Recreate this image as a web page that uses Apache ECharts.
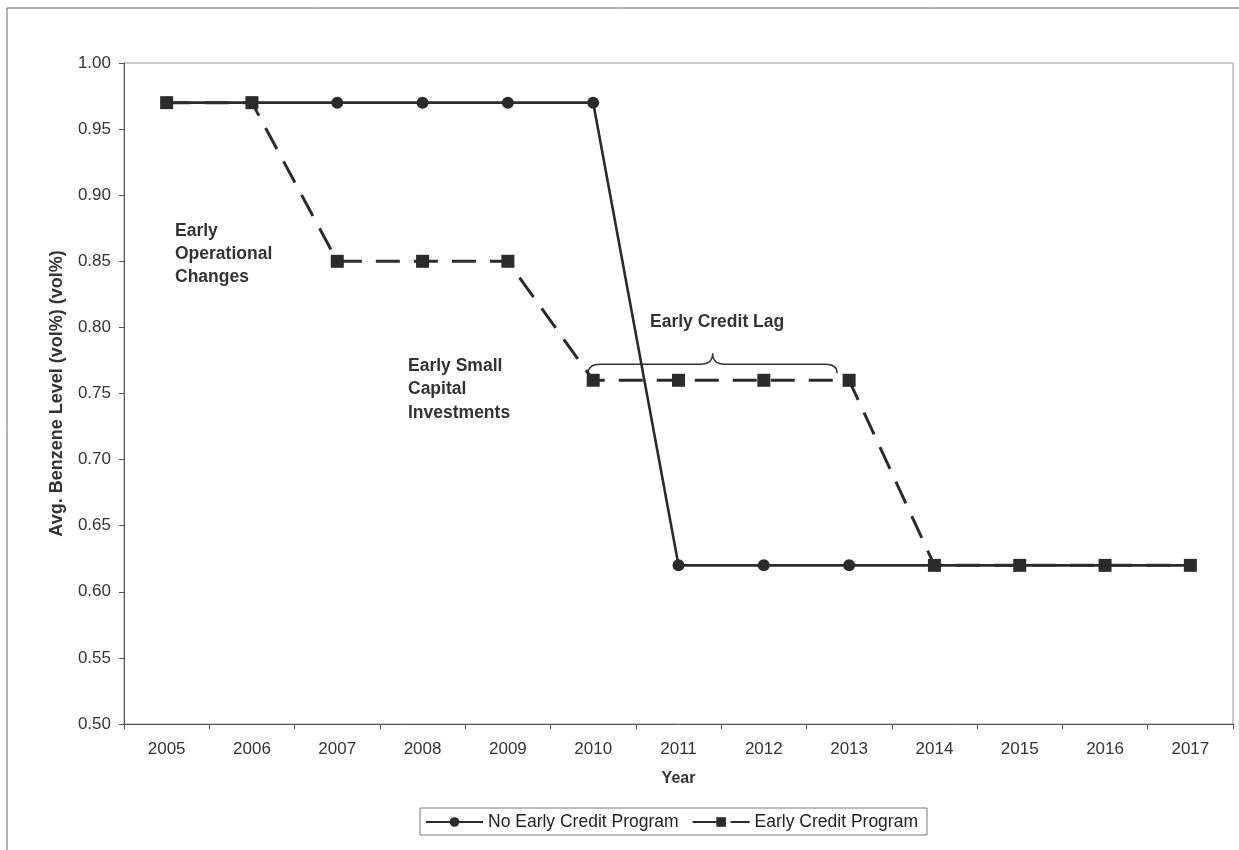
<!DOCTYPE html>
<html><head><meta charset="utf-8">
<script src="https://cdn.jsdelivr.net/npm/echarts@6/dist/echarts.min.js"></script>
<style>html,body{margin:0;padding:0;background:#fff}#c{width:1239px;height:850px}</style>
</head><body><div id="c"></div>
<script>
const years = ['2005','2006','2007','2008','2009','2010','2011','2012','2013','2014','2015','2016','2017'];
const noEarly = [0.97,0.97,0.97,0.97,0.97,0.97,0.62,0.62,0.62,0.62,0.62,0.62,0.62];
const early = [0.97,0.97,0.85,0.85,0.85,0.76,0.76,0.76,0.76,0.62,0.62,0.62,0.62];
const braceSpan = [[5, 8, 0.76]];
const yTicks = {min: 0.5, max: 1.0, interval: 0.05};

const F = 'Liberation Sans, Arial, sans-serif';
const chart = echarts.init(document.getElementById('c'));
chart.setOption({
  animation: false,
  backgroundColor: '#fff',
  grid: {left: 124, right: 6, top: 63, bottom: 126, show: true, borderColor: '#999', borderWidth: 1},
  legend: {
    top: 808, left: 420, itemWidth: 57, itemHeight: 12, itemGap: 13,
    borderColor: '#777', borderWidth: 1, padding: [5, 9, 4, 5],
    textStyle: {fontFamily: F, fontSize: 17.5, color: '#222', padding: [0, 0, 0, 0]},
    data: ['No Early Credit Program', 'Early Credit Program']
  },
  xAxis: {
    type: 'category', data: years, boundaryGap: true,
    name: 'Year', nameLocation: 'middle', nameGap: 47,
    nameTextStyle: {fontFamily: F, fontSize: 16, fontWeight: 'bold', color: '#333'},
    axisLine: {lineStyle: {color: '#555', width: 1}},
    axisTick: {show: true, length: 5, lineStyle: {color: '#555'}},
    axisLabel: {fontFamily: F, fontSize: 17, color: '#333', margin: 17}
  },
  yAxis: {
    type: 'value', min: yTicks.min, max: yTicks.max, interval: yTicks.interval,
    name: 'Avg. Benzene Level (vol%) (vol%)', nameLocation: 'middle', nameGap: 58,
    nameTextStyle: {fontFamily: F, fontSize: 18, fontWeight: 'bold', color: '#333'},
    axisLine: {show: true, lineStyle: {color: '#555', width: 1}},
    axisTick: {show: true, length: 5, lineStyle: {color: '#555'}},
    splitLine: {show: false},
    axisLabel: {fontFamily: F, fontSize: 17, color: '#333', margin: 13, formatter: v => v.toFixed(2)}
  },
  series: [
    {
      name: 'No Early Credit Program', type: 'line', data: noEarly,
      symbol: 'circle', symbolSize: 12,
      lineStyle: {color: '#2b2b2b', width: 2.6},
      itemStyle: {color: '#2b2b2b'}
    },
    {
      name: 'Early Credit Program', type: 'line', data: early,
      symbol: 'rect', symbolSize: 13,
      lineStyle: {color: '#2b2b2b', width: 3, type: [24, 14]},
      itemStyle: {color: '#2b2b2b'}
    },
    {
      type: 'custom', data: braceSpan, silent: true, z: 1,
      renderItem: function (params, api) {
        const p0 = api.coord([api.value(0), api.value(2)]);
        const p1 = api.coord([api.value(1), api.value(2)]);
        const x0 = p0[0] - 5, x1 = p1[0] - 12;
        const yE = p0[1] - 7, yM = p0[1] - 16, yP = p0[1] - 27;
        const xm = (x0 + x1) / 2;
        const d = `M${x0} ${yE} Q${x0} ${yM} ${x0+12} ${yM} L${xm-12} ${yM} Q${xm} ${yM} ${xm} ${yP} Q${xm} ${yM} ${xm+12} ${yM} L${x1-12} ${yM} Q${x1} ${yM} ${x1} ${yE}`;
        return {type: 'path', shape: {pathData: d}, style: {fill: null, stroke: '#333', lineWidth: 1.5}};
      }
    }
  ],
  graphic: [
    {type: 'rect', shape: {x: 7, y: 8, width: 1300, height: 900}, style: {fill: null, stroke: '#666', lineWidth: 1}, silent: true, z: -10},
    {type: 'text', left: 175, top: 220, style: {text: 'Early\nOperational\nChanges', font: 'bold 17.5px ' + F, fill: '#333', lineHeight: 23}},
    {type: 'text', left: 408, top: 354, style: {text: 'Early Small\nCapital\nInvestments', font: 'bold 17.5px ' + F, fill: '#333', lineHeight: 23.5}},
    {type: 'text', left: 650, top: 311, style: {text: 'Early Credit Lag', font: 'bold 17.5px ' + F, fill: '#333', lineHeight: 23}}
  ]
});
</script></body></html>
